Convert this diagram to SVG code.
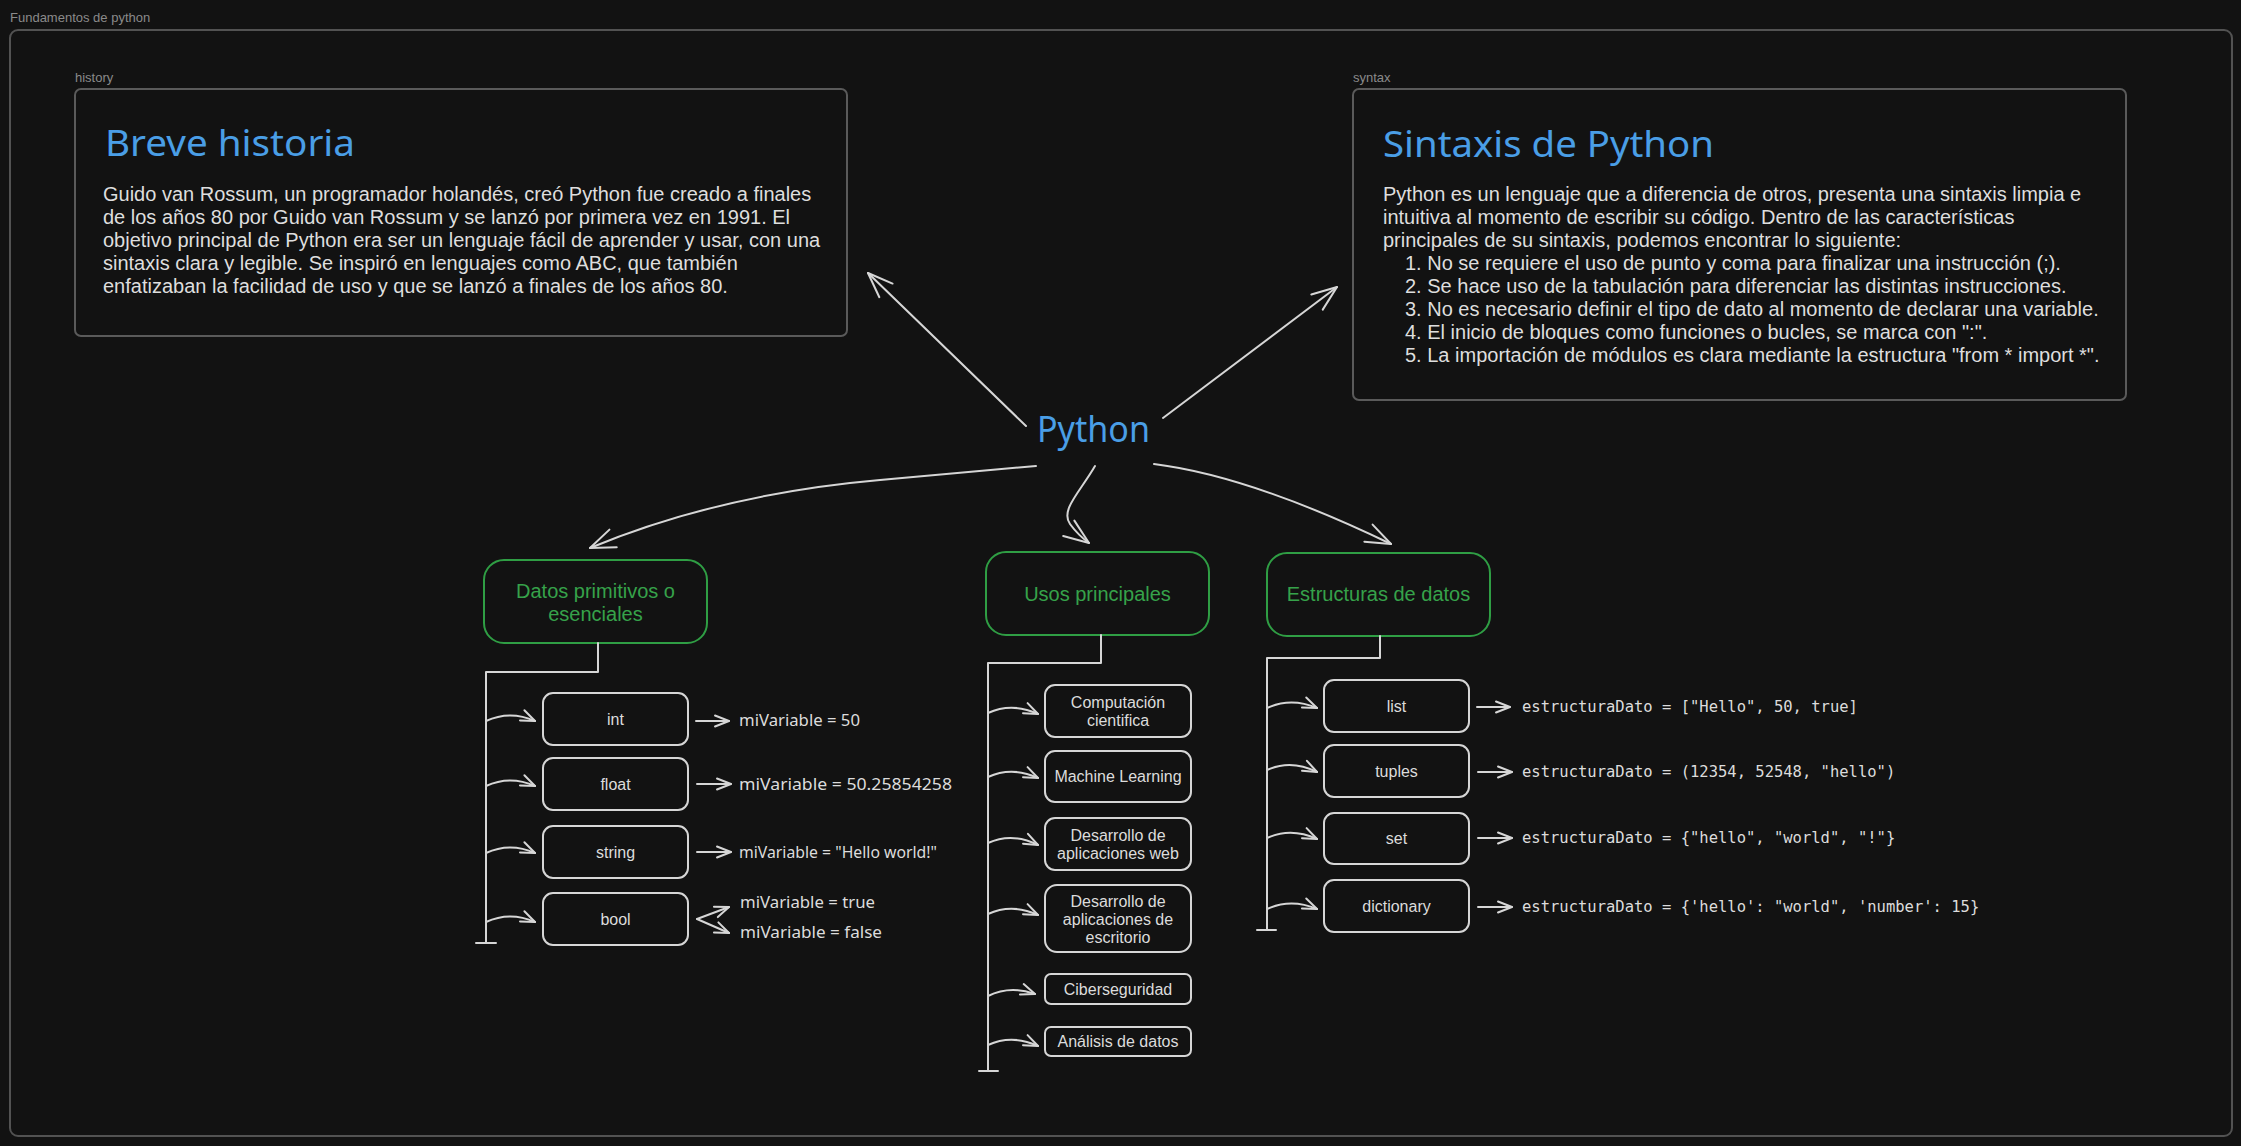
<svg xmlns="http://www.w3.org/2000/svg" width="2241" height="1146" viewBox="0 0 2241 1146">
<defs>
<style>
.bg{fill:#121212}
.frame{fill:none;stroke:#525252;stroke-width:2}
.flabel{font-family:"Liberation Sans",Arial,sans-serif;font-size:13px;fill:#8a8a8a}
.panel{fill:none;stroke:#5a5a5a;stroke-width:2}
.title{font-family:"Noto Sans","Liberation Sans",sans-serif;fill:#4a9ee6}
.body{font-family:"Liberation Sans",Arial,sans-serif;font-size:20px;fill:#dedede}
.hdr{fill:none;stroke:#2f9e44;stroke-width:2}
.hdrt{font-family:"Liberation Sans",Arial,sans-serif;font-size:20px;fill:#36a24a;text-anchor:middle}
.box{fill:none;stroke:#d6d6d6;stroke-width:2}
.bt{font-family:"Liberation Sans",Arial,sans-serif;font-size:16px;fill:#dcdcdc;text-anchor:middle}
.hand{font-family:"Noto Sans","Liberation Sans",sans-serif;font-size:16px;fill:#dcdcdc}
.code{font-family:"DejaVu Sans Mono","Liberation Mono",monospace;font-size:15.5px;fill:#dcdcdc}
.ln{fill:none;stroke:#d6d6d6;stroke-width:2;stroke-linecap:round;stroke-linejoin:round}
.big{marker-end:url(#mbig)}
.sm{marker-end:url(#msm)}
</style>
<marker id="mbig" markerUnits="userSpaceOnUse" markerWidth="40" markerHeight="40" viewBox="-30 -20 40 40" refX="0" refY="0" orient="auto" overflow="visible">
<path d="M-25,-9.5 L0,0 L-25,9.5" fill="none" stroke="#d6d6d6" stroke-width="2" stroke-linecap="round" stroke-linejoin="round"/>
</marker>
<marker id="msm" markerUnits="userSpaceOnUse" markerWidth="30" markerHeight="30" viewBox="-20 -15 30 30" refX="0" refY="0" orient="auto" overflow="visible">
<path d="M-14,-5.5 L0,0 L-14,5.5" fill="none" stroke="#d6d6d6" stroke-width="2" stroke-linecap="round" stroke-linejoin="round"/>
</marker>
</defs>
<rect class="bg" x="0" y="0" width="2241" height="1146"/>

<g id="frame">
<text class="flabel" x="10" y="22">Fundamentos de python</text>
<rect class="frame" x="10" y="30" width="2222" height="1106" rx="8"/>
</g>

<g id="history">
<text class="flabel" x="75" y="82">history</text>
<rect class="panel" x="75" y="89" width="772" height="247" rx="6"/>
<text class="title" x="105" y="156" font-size="36" textLength="250" lengthAdjust="spacingAndGlyphs">Breve historia</text>
<text class="body" x="103" y="201">Guido van Rossum, un programador holandés, creó Python fue creado a finales</text>
<text class="body" x="103" y="224">de los años 80 por Guido van Rossum y se lanzó por primera vez en 1991. El</text>
<text class="body" x="103" y="247">objetivo principal de Python era ser un lenguaje fácil de aprender y usar, con una</text>
<text class="body" x="103" y="270">sintaxis clara y legible. Se inspiró en lenguajes como ABC, que también</text>
<text class="body" x="103" y="293">enfatizaban la facilidad de uso y que se lanzó a finales de los años 80.</text>
</g>

<g id="syntax">
<text class="flabel" x="1353" y="82">syntax</text>
<rect class="panel" x="1353" y="89" width="773" height="311" rx="6"/>
<text class="title" x="1383" y="157" font-size="36" textLength="331" lengthAdjust="spacingAndGlyphs">Sintaxis de Python</text>
<text class="body" x="1383" y="201">Python es un lenguaje que a diferencia de otros, presenta una sintaxis limpia e</text>
<text class="body" x="1383" y="224">intuitiva al momento de escribir su código. Dentro de las características</text>
<text class="body" x="1383" y="247">principales de su sintaxis, podemos encontrar lo siguiente:</text>
<text class="body" x="1405" y="270">1. No se requiere el uso de punto y coma para finalizar una instrucción (;).</text>
<text class="body" x="1405" y="293">2. Se hace uso de la tabulación para diferenciar las distintas instrucciones.</text>
<text class="body" x="1405" y="316">3. No es necesario definir el tipo de dato al momento de declarar una variable.</text>
<text class="body" x="1405" y="339">4. El inicio de bloques como funciones o bucles, se marca con ":".</text>
<text class="body" x="1405" y="362">5. La importación de módulos es clara mediante la estructura "from * import *".</text>
</g>

<g id="python">
<text class="title" x="1037" y="442" font-size="36" textLength="113" lengthAdjust="spacingAndGlyphs">Python</text>
</g>

<g id="datos">
<rect class="hdr" x="484" y="560" width="223" height="83" rx="20"/>
<text class="hdrt" x="595.5" y="598">Datos primitivos o</text>
<text class="hdrt" x="595.5" y="621">esenciales</text>
</g>
<g id="usos">
<rect class="hdr" x="986" y="552" width="223" height="83" rx="20"/>
<text class="hdrt" x="1097.5" y="601">Usos principales</text>
</g>
<g id="estructuras">
<rect class="hdr" x="1267" y="553" width="223" height="83" rx="20"/>
<text class="hdrt" x="1378.5" y="601">Estructuras de datos</text>
</g>

<g id="int"><rect class="box" x="543" y="693" width="145" height="52" rx="10"/><text class="bt" x="615.5" y="725">int</text></g>
<g id="float"><rect class="box" x="543" y="758" width="145" height="52" rx="10"/><text class="bt" x="615.5" y="790">float</text></g>
<g id="string"><rect class="box" x="543" y="826" width="145" height="52" rx="10"/><text class="bt" x="615.5" y="858">string</text></g>
<g id="bool"><rect class="box" x="543" y="893" width="145" height="52" rx="10"/><text class="bt" x="615.5" y="925">bool</text></g>

<g id="val-int"><text class="hand" x="739" y="726" textLength="121" lengthAdjust="spacingAndGlyphs">miVariable = 50</text></g>
<g id="val-float"><text class="hand" x="739" y="790" textLength="213" lengthAdjust="spacingAndGlyphs">miVariable = 50.25854258</text></g>
<g id="val-string"><text class="hand" x="739" y="858" textLength="198" lengthAdjust="spacingAndGlyphs">miVariable = "Hello world!"</text></g>
<g id="val-true"><text class="hand" x="740" y="908" textLength="135" lengthAdjust="spacingAndGlyphs">miVariable = true</text></g>
<g id="val-false"><text class="hand" x="740" y="938" textLength="142" lengthAdjust="spacingAndGlyphs">miVariable = false</text></g>

<g id="comp"><rect class="box" x="1045" y="685" width="146" height="52" rx="10"/><text class="bt" x="1118" y="708">Computación</text><text class="bt" x="1118" y="726">cientifica</text></g>
<g id="ml"><rect class="box" x="1045" y="751" width="146" height="51" rx="10"/><text class="bt" x="1118" y="782">Machine Learning</text></g>
<g id="web"><rect class="box" x="1045" y="818" width="146" height="52" rx="10"/><text class="bt" x="1118" y="841">Desarrollo de</text><text class="bt" x="1118" y="859">aplicaciones web</text></g>
<g id="desk"><rect class="box" x="1045" y="885" width="146" height="67" rx="12"/><text class="bt" x="1118" y="907">Desarrollo de</text><text class="bt" x="1118" y="925">aplicaciones de</text><text class="bt" x="1118" y="943">escritorio</text></g>
<g id="ciber"><rect class="box" x="1045" y="974" width="146" height="30" rx="6"/><text class="bt" x="1118" y="995">Ciberseguridad</text></g>
<g id="analisis"><rect class="box" x="1045" y="1027" width="146" height="29" rx="6"/><text class="bt" x="1118" y="1047">Análisis de datos</text></g>

<g id="list"><rect class="box" x="1324" y="680" width="145" height="52" rx="10"/><text class="bt" x="1396.5" y="712">list</text></g>
<g id="tuples"><rect class="box" x="1324" y="745" width="145" height="52" rx="10"/><text class="bt" x="1396.5" y="777">tuples</text></g>
<g id="set"><rect class="box" x="1324" y="813" width="145" height="51" rx="10"/><text class="bt" x="1396.5" y="844">set</text></g>
<g id="dictionary"><rect class="box" x="1324" y="880" width="145" height="52" rx="10"/><text class="bt" x="1396.5" y="912">dictionary</text></g>

<g id="code-list"><text class="code" x="1522" y="712">estructuraDato = ["Hello", 50, true]</text></g>
<g id="code-tuples"><text class="code" x="1522" y="777">estructuraDato = (12354, 52548, "hello")</text></g>
<g id="code-set"><text class="code" x="1522" y="843">estructuraDato = {"hello", "world", "!"}</text></g>
<g id="code-dict"><text class="code" x="1522" y="912">estructuraDato = {'hello': "world", 'number': 15}</text></g>

<g id="connectors">
<path class="ln big" d="M1026,426 L868,273"/>
<path class="ln big" d="M1163,418 L1337,287"/>
<path class="ln big" d="M1036,466 L880,480 Q720,494 590,548"/>
<path class="ln big" d="M1095,466 C1080,492 1060,510 1070,524 Q1078,535 1089,543"/>
<path class="ln big" d="M1154,464 Q1250,476 1391,544"/>

<path class="ln" d="M598,643 L598,672 L486,672 L486,943 M476,943 L496,943"/>
<path class="ln" d="M1101,635 L1101,663 L988,663 L988,1071 M979,1071 L998,1071"/>
<path class="ln" d="M1380,636 L1380,658 L1267,658 L1267,930 M1257,930 L1276,930"/>

<path class="ln sm" d="M486,721 Q510,710 535,721"/>
<path class="ln sm" d="M486,786 Q510,775 535,786"/>
<path class="ln sm" d="M486,853 Q510,842 535,853"/>
<path class="ln sm" d="M486,922 Q510,911 535,922"/>

<path class="ln sm" d="M988,713 Q1012,702 1038,714"/>
<path class="ln sm" d="M988,777 Q1012,766 1038,778"/>
<path class="ln sm" d="M988,843 Q1012,832 1038,845"/>
<path class="ln sm" d="M988,914 Q1012,903 1038,915"/>
<path class="ln sm" d="M988,996 Q1010,985 1035,994"/>
<path class="ln sm" d="M988,1045 Q1012,1034 1038,1046"/>

<path class="ln sm" d="M1267,708 Q1291,697 1317,708"/>
<path class="ln sm" d="M1267,770 Q1291,759 1317,772"/>
<path class="ln sm" d="M1267,838 Q1291,827 1317,839"/>
<path class="ln sm" d="M1267,909 Q1291,898 1317,909"/>

<path class="ln sm" d="M696,721 L729,721"/>
<path class="ln sm" d="M697,784 L731,784"/>
<path class="ln sm" d="M697,852 L731,852"/>
<path class="ln sm" d="M697,919 L729,907"/>
<path class="ln sm" d="M697,919 L729,933"/>

<path class="ln sm" d="M1477,707 L1510,707"/>
<path class="ln sm" d="M1478,772 L1512,772"/>
<path class="ln sm" d="M1478,838 L1512,838"/>
<path class="ln sm" d="M1478,907 L1512,907"/>
</g>
</svg>
